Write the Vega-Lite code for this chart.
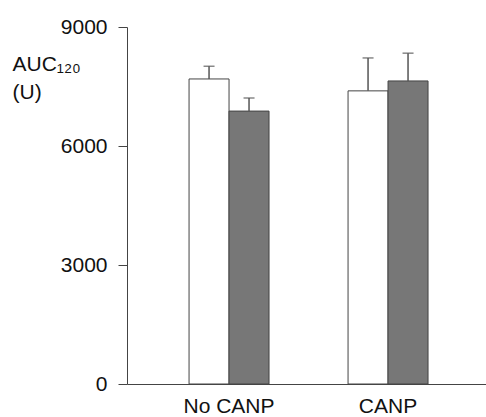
{
  "$schema": "https://vega.github.io/schema/vega-lite/v6.json",
  "width": 359,
  "height": 357,
  "autosize": {"type": "none"},
  "padding": {"left": 127, "top": 27, "right": 0, "bottom": 33},
  "background": "white",
  "config": {
    "view": {"stroke": null},
    "font": "Liberation Sans",
    "axis": {"grid": false, "domainColor": "#444", "tickColor": "#444", "labelColor": "#111", "titleColor": "#111", "labelFont": "Liberation Sans", "titleFont": "Liberation Sans"}
  },
  "data": {
    "values": [
      {"group": "No CANP", "series": "A", "value": 7690, "upper": 8010},
      {"group": "No CANP", "series": "B", "value": 6880, "upper": 7210},
      {"group": "CANP", "series": "A", "value": 7390, "upper": 8220},
      {"group": "CANP", "series": "B", "value": 7640, "upper": 8340}
    ]
  },
  "encoding": {
    "x": {
      "field": "group", "type": "nominal", "sort": ["No CANP", "CANP"],
      "scale": {"paddingInner": 0.497, "paddingOuter": 0.3774, "align": 0.517},
      "axis": {"title": null, "labelAngle": 0, "ticks": false, "labelFontSize": 21, "labelPadding": 11, "domainWidth": 1}
    },
    "xOffset": {"field": "series", "type": "nominal", "scale": {"paddingInner": 0, "paddingOuter": 0}}
  },
  "layer": [
    {
      "mark": {"type": "bar", "stroke": "#444", "strokeWidth": 1},
      "encoding": {
        "y": {
          "field": "value", "type": "quantitative",
          "scale": {"domain": [0, 9000], "nice": false},
          "axis": {"values": [0, 3000, 6000, 9000], "format": "d", "title": ["AUC₁₂₀", "(U)"], "titleAngle": 0, "titleAlign": "left", "titleBaseline": "top", "titleX": -115, "titleY": 26, "titleFontSize": 21, "titleFontWeight": "normal", "titleLineHeight": 28, "labelFontSize": 21, "tickSize": 9, "labelPadding": 11, "domainWidth": 1}
        },
        "fill": {"field": "series", "type": "nominal", "scale": {"domain": ["A", "B"], "range": ["white", "#777777"]}, "legend": null}
      }
    },
    {
      "mark": {"type": "rule", "color": "#555", "strokeWidth": 1.5},
      "encoding": {
        "y": {"field": "value", "type": "quantitative"},
        "y2": {"field": "upper"}
      }
    },
    {
      "mark": {"type": "tick", "color": "#555", "size": 11, "thickness": 1.5},
      "encoding": {
        "y": {"field": "upper", "type": "quantitative"}
      }
    }
  ]
}
